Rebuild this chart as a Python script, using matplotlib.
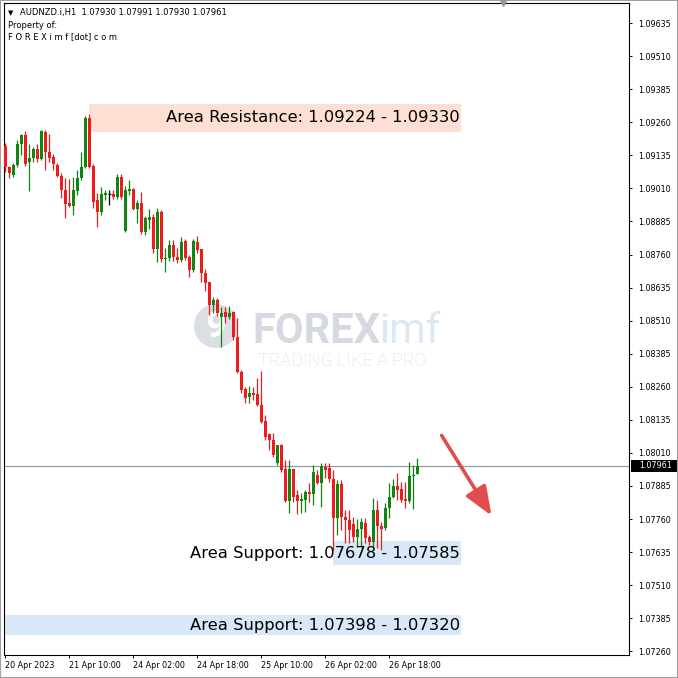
import matplotlib.pyplot as plt
import numpy as np
from matplotlib.patches import Rectangle, Circle

# AUDNZD.i H1 candles (one per hour)
opens = [1.09170, 1.09091, 1.09060, 1.09098, 1.09178, 1.09212, 1.09109, 1.09125, 1.09159, 1.09121,
         1.09223, 1.09147, 1.09129, 1.09098, 1.09056, 1.09004, 1.08955, 1.08943, 1.09000, 1.09049,
         1.09091, 1.09276, 1.09094, 1.08966, 1.08920, 1.08985, 1.08989, 1.08989, 1.08978, 1.09053,
         1.08849, 1.09000, 1.09008, 1.08932, 1.08955, 1.08845, 1.08890, 1.08902, 1.08781, 1.08920,
         1.08743, 1.08747, 1.08796, 1.08751, 1.08739, 1.08811, 1.08751, 1.08701, 1.08807, 1.08781,
         1.08690, 1.08656, 1.08569, 1.08588, 1.08524, 1.08542, 1.08524, 1.08542, 1.08448, 1.08316,
         1.08252, 1.08222, 1.08237, 1.08233, 1.08191, 1.08130, 1.08081, 1.08059, 1.07972, 1.08040,
         1.07949, 1.07828, 1.07949, 1.07851, 1.07828, 1.07832, 1.07862, 1.07855, 1.07927, 1.07897,
         1.07957, 1.07953, 1.07911, 1.07764, 1.07893, 1.07767, 1.07756, 1.07741, 1.07692, 1.07722,
         1.07745, 1.07692, 1.07673, 1.07794, 1.07734, 1.07726, 1.07802, 1.07843, 1.07885, 1.07874,
         1.07836, 1.07828, 1.07923, 1.07930]
highs = [1.09182, 1.09094, 1.09106, 1.09193, 1.09216, 1.09227, 1.09178, 1.09167, 1.09178, 1.09231,
         1.09231, 1.09216, 1.09140, 1.09106, 1.09068, 1.09049, 1.09045, 1.09053, 1.09079, 1.09147,
         1.09283, 1.09291, 1.09102, 1.08993, 1.09016, 1.09004, 1.09004, 1.09004, 1.09064, 1.09064,
         1.09019, 1.09042, 1.09012, 1.08966, 1.08996, 1.08905, 1.08932, 1.08913, 1.08936, 1.08928,
         1.08785, 1.08815, 1.08815, 1.08785, 1.08827, 1.08819, 1.08758, 1.08819, 1.08830, 1.08781,
         1.08705, 1.08656, 1.08600, 1.08596, 1.08562, 1.08562, 1.08565, 1.08546, 1.08520, 1.08323,
         1.08259, 1.08263, 1.08259, 1.08293, 1.08320, 1.08153, 1.08085, 1.08085, 1.08040, 1.08044,
         1.07983, 1.07983, 1.07949, 1.07870, 1.07859, 1.07870, 1.07897, 1.07964, 1.07945, 1.07972,
         1.07972, 1.07972, 1.07945, 1.07908, 1.07908, 1.07794, 1.07794, 1.07767, 1.07760, 1.07764,
         1.07764, 1.07700, 1.07840, 1.07832, 1.07749, 1.07821, 1.07897, 1.07911, 1.07934, 1.07900,
         1.07900, 1.07975, 1.07964, 1.07991]
lows = [1.09071, 1.09049, 1.09053, 1.09091, 1.09136, 1.09094, 1.09000, 1.09109, 1.09109, 1.09117,
        1.09079, 1.09109, 1.09079, 1.09053, 1.08974, 1.08898, 1.08940, 1.08909, 1.08985, 1.09042,
        1.09087, 1.09087, 1.08936, 1.08864, 1.08909, 1.08966, 1.08947, 1.08970, 1.08970, 1.08970,
        1.08845, 1.08985, 1.08928, 1.08879, 1.08838, 1.08834, 1.08856, 1.08766, 1.08731, 1.08731,
        1.08693, 1.08735, 1.08735, 1.08728, 1.08731, 1.08739, 1.08675, 1.08693, 1.08766, 1.08656,
        1.08622, 1.08531, 1.08539, 1.08527, 1.08411, 1.08501, 1.08516, 1.08437, 1.08312, 1.08237,
        1.08199, 1.08199, 1.08210, 1.08187, 1.08123, 1.08059, 1.08021, 1.07994, 1.07964, 1.07938,
        1.07824, 1.07783, 1.07824, 1.07779, 1.07783, 1.07786, 1.07824, 1.07813, 1.07893, 1.07805,
        1.07915, 1.07900, 1.07643, 1.07700, 1.07719, 1.07670, 1.07670, 1.07673, 1.07654, 1.07654,
        1.07670, 1.07662, 1.07654, 1.07651, 1.07643, 1.07719, 1.07764, 1.07840, 1.07832, 1.07824,
        1.07802, 1.07821, 1.07798, 1.07930]
closes = [1.09091, 1.09068, 1.09098, 1.09178, 1.09212, 1.09102, 1.09125, 1.09159, 1.09121, 1.09227,
          1.09147, 1.09125, 1.09102, 1.09056, 1.09004, 1.08951, 1.08943, 1.09004, 1.09049, 1.09091,
          1.09276, 1.09091, 1.08958, 1.08920, 1.08989, 1.08993, 1.08989, 1.08978, 1.09053, 1.08978,
          1.09004, 1.09008, 1.08932, 1.08955, 1.08845, 1.08898, 1.08902, 1.08781, 1.08920, 1.08743,
          1.08747, 1.08796, 1.08751, 1.08739, 1.08807, 1.08747, 1.08701, 1.08811, 1.08777, 1.08690,
          1.08653, 1.08569, 1.08588, 1.08539, 1.08539, 1.08524, 1.08539, 1.08448, 1.08316, 1.08248,
          1.08218, 1.08237, 1.08229, 1.08191, 1.08127, 1.08070, 1.08059, 1.08002, 1.08040, 1.07945,
          1.07828, 1.07949, 1.07843, 1.07828, 1.07836, 1.07862, 1.07855, 1.07938, 1.07897, 1.07960,
          1.07945, 1.07911, 1.07764, 1.07893, 1.07767, 1.07756, 1.07719, 1.07692, 1.07722, 1.07749,
          1.07689, 1.07673, 1.07794, 1.07734, 1.07722, 1.07802, 1.07843, 1.07885, 1.07870, 1.07832,
          1.07828, 1.07923, 1.07927, 1.07961]

time_ticks = [0, 16, 32, 48, 64, 80, 96]
time_labels = ['20 Apr 2023', '21 Apr 10:00', '24 Apr 02:00', '24 Apr 18:00',
               '25 Apr 10:00', '26 Apr 02:00', '26 Apr 18:00']
price_ticks = [1.07260, 1.07385, 1.07510, 1.07635, 1.07760, 1.07885, 1.08010, 1.08135,
               1.08260, 1.08385, 1.08510, 1.08635, 1.08760, 1.08885, 1.09010, 1.09135,
               1.09260, 1.09385, 1.09510, 1.09635]

resistance = (1.09224, 1.09330)
support_1 = (1.07585, 1.07678)
support_2 = (1.07320, 1.07398)
last_price = 1.07961

UP = '#118411'
DOWN = '#ec1c1c'
W = 678.0

fig = plt.figure(figsize=(6.78, 6.78), dpi=100)
ax = fig.add_axes([3.5 / W, 23 / W, 625.5 / W, 652 / W])
ax.set_xlim(-0.45, 155.9)
ax.set_ylim(1.07246, 1.09711)

# candles
for i in range(len(opens)):
    o, h, l, c = opens[i], highs[i], lows[i], closes[i]
    if c > o:
        col = UP
    elif c < o:
        col = DOWN
    else:
        col = 'black'
    ax.vlines(i, l, h, color=col, lw=0.9, zorder=3)
    if col == 'black':
        ax.hlines(o, i - 0.4, i + 0.4, color=col, lw=0.9, zorder=3)
    else:
        ax.bar(i, max(abs(c - o), 0.00004), bottom=min(o, c), width=0.8,
               color=col, linewidth=0, zorder=3)

# zones
ax.add_patch(Rectangle((20.9, resistance[0]), 93.0, resistance[1] - resistance[0],
                       fc='#fde0d3', ec='none', zorder=1))
ax.add_patch(Rectangle((81.9, support_1[0]), 32.0, support_1[1] - support_1[0],
                       fc='#d8e8f8', ec='none', zorder=1))
ax.add_patch(Rectangle((-0.45, support_2[0]), 114.35, support_2[1] - support_2[0],
                       fc='#d8e8f8', ec='none', zorder=1))
ax.text(113.7, sum(resistance) / 2, f'Area Resistance: {resistance[0]:.5f} - {resistance[1]:.5f}',
        ha='right', va='center', fontsize=11.8, zorder=4)
ax.text(113.7, sum(support_1) / 2, f'Area Support: {support_1[1]:.5f} - {support_1[0]:.5f}',
        ha='right', va='center', fontsize=11.8, zorder=4)
ax.text(113.7, sum(support_2) / 2, f'Area Support: {support_2[1]:.5f} - {support_2[0]:.5f}',
        ha='right', va='center', fontsize=11.8, zorder=4)

# watermark (faded logo)
ax.add_patch(Circle((216 / W, 1 - 326 / W), 22 / W, transform=fig.transFigure,
                    fc='#dcdee6', ec='none', zorder=0.5))
ax.text(216 / W, 1 - 327 / W, '9', transform=fig.transFigure, ha='center', va='center',
        fontsize=26, fontweight='bold', color='white', family='Roboto', zorder=0.6)
ax.text(252 / W, 1 - 343 / W, 'FOREX', transform=fig.transFigure, va='baseline',
        fontsize=30, fontweight='bold', color='#d6d9e2', family='Roboto', zorder=0.6)
ax.text(379 / W, 1 - 343 / W, 'imf', transform=fig.transFigure, va='baseline',
        fontsize=30, color='#dbe9f4', family='Roboto', zorder=0.6)
ax.text(258 / W, 1 - 366 / W, 'TRADING LIKE A PRO', transform=fig.transFigure, va='baseline',
        fontsize=13, fontweight='light', color='#dedee2', family='Roboto', zorder=0.6)

# last price line + label
ax.axhline(last_price, color='#8895a2', lw=0.8, zorder=2)
yt = ax.get_yaxis_transform()
ax.add_patch(Rectangle((1.003, last_price - 0.00023), 0.073, 0.00046, transform=yt,
                       fc='black', ec='none', clip_on=False, zorder=5))
ax.text(1.017, last_price, f'{last_price:.5f}', transform=yt, va='center', ha='left',
        fontsize=5.8, color='white', clip_on=False, zorder=6)

# down arrow
ax.annotate('', xy=(121.9, 1.07764), xytext=(108.7, 1.08085),
            arrowprops=dict(arrowstyle='-|>,head_length=0.8,head_width=0.32',
                            color='#e24c4c', lw=2.6, mutation_scale=22), zorder=6)

# axes
ax.yaxis.tick_right()
ax.set_yticks(price_ticks, [f'{p:.5f}' for p in price_ticks])
ax.set_xticks(time_ticks, time_labels, ha='left')
ax.tick_params(axis='y', direction='out', length=2.5, width=0.7, pad=4, labelsize=5.8)
ax.tick_params(axis='x', direction='out', length=2.5, width=0.7, pad=1.5, labelsize=5.8)
for s in ax.spines.values():
    s.set_linewidth(0.8)

# header text
fig.text(8 / W, 1 - 13 / W, '▼', fontsize=5, va='center')
fig.text(20 / W, 1 - 13 / W, 'AUDNZD.i,H1  1.07930 1.07991 1.07930 1.07961', fontsize=6, va='center')
fig.text(8 / W, 1 - 25 / W, 'Property of:', fontsize=6, va='center')
fig.text(8 / W, 1 - 37 / W, 'F O R E X i m f [dot] c o m', fontsize=6, va='center')

# little chart markers / window border
fig.add_artist(plt.Line2D([503 / W], [1 - 2 / W], marker='v', ms=6, color='#9097a0',
                          transform=fig.transFigure))
fig.add_artist(Rectangle((0, 0), 1, 1, transform=fig.transFigure, fill=False,
                         ec='#a0a0a0', lw=1.5))

plt.savefig('out.png', dpi=100)
